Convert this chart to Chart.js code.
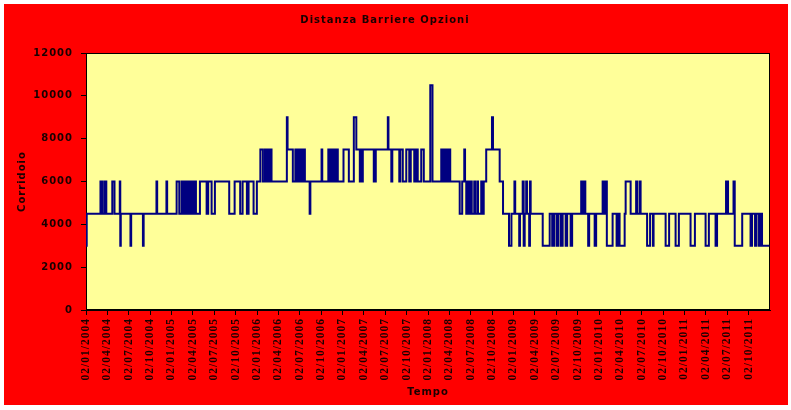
<!DOCTYPE html>
<html><head><meta charset="utf-8">
<script src="https://cdn.jsdelivr.net/npm/chart.js@4"></script>
<style>html,body{margin:0;padding:0;background:#fff}canvas{display:block}</style>
</head><body>
<canvas id="c" width="791" height="410"></canvas>
<script>
// Tick labels (quarterly dates) and their positions in months since 02/01/2004
const tickLabels = ['02/01/2004','02/04/2004','02/07/2004','02/10/2004','02/01/2005','02/04/2005','02/07/2005','02/10/2005',
  '02/01/2006','02/04/2006','02/07/2006','02/10/2006','02/01/2007','02/04/2007','02/07/2007','02/10/2007',
  '02/01/2008','02/04/2008','02/07/2008','02/10/2008','02/01/2009','02/04/2009','02/07/2009','02/10/2009',
  '02/01/2010','02/04/2010','02/07/2010','02/10/2010','02/01/2011','02/04/2011','02/07/2011','02/10/2011'];
const tickMonths = [0,3,6,9,12,15,18,21,24,27,30,33,36,39,42,45,48,51,54,57,60,63,66,69,72,75,78,81,84,87,90,93];

// Step series: month (since 02/01/2004) where a new level starts, and that level
const changeMonths = [
  0,0.1,2.03,2.29,2.59,2.85,3.69,4.0,4.74,4.81,4.88,6.24,6.34,7.99,8.09,9.89,9.99,11.29,11.39,
  12.72,13.09,13.42,13.65,13.88,14.03,14.17,14.35,14.49,14.63,14.77,14.96,15.15,15.43,15.99,16.93,17.15,17.63,18.09,20.1,20.86,21.64,21.98,22.58,22.82,23.52,
  23.98,24.47,24.82,25.11,25.3,25.4,25.6,25.7,25.85,25.92,26.04,28.19,28.29,29.03,
  29.38,29.6,29.7,29.9,30.0,30.2,30.3,30.5,30.6,30.72,31.39,31.49,33.06,33.16,
  34.01,34.2,34.3,34.5,34.6,34.8,34.9,35.1,35.2,35.34,36.14,36.89,
  37.59,37.94,38.43,38.57,38.71,38.85,40.39,40.67,42.36,42.45,42.85,42.99,
  43.97,44.11,44.46,44.95,45.37,45.58,46.07,46.28,46.56,47.05,47.41,48.32,48.63,
  49.86,50.05,50.15,50.35,50.45,50.65,50.75,50.95,51.02,51.12,
  52.45,52.8,53.09,53.2,53.37,53.51,53.72,53.93,54.14,54.49,54.6,54.91,55.02,55.47,55.68,55.82,
  56.17,56.98,57.12,58.06,58.53,59.37,59.71,
  60.13,60.24,60.8,60.91,61.29,61.43,61.57,61.78,61.89,62.2,62.31,62.41,
  64.1,65.08,65.43,65.71,66.06,66.27,66.62,66.9,67.32,67.53,68.02,68.23,
  69.5,69.71,69.92,70.08,70.48,70.62,71.39,71.6,
  72.51,72.69,72.93,73.1,73.91,74.47,74.68,74.89,75.6,75.74,76.44,
  77.21,77.35,77.7,77.84,78.75,79.17,79.57,79.66,
  81.35,81.84,82.75,83.21,84.85,85.46,86.96,87.42,88.36,88.57,
  89.83,90.11,90.88,91.05,92.1,93.27,93.48,93.9,94.11,94.46,94.6,94.88,95.9];
const levels = [
  3000,4500,6000,4500,6000,4500,6000,4500,6000,3000,4500,3000,4500,3000,4500,6000,4500,6000,4500,
  6000,4500,6000,4500,6000,4500,6000,4500,6000,4500,6000,4500,6000,4500,6000,4500,6000,4500,6000,4500,6000,4500,6000,4500,6000,4500,
  6000,7500,6000,7500,6000,7500,6000,7500,6000,7500,6000,9000,7500,6000,
  7500,6000,7500,6000,7500,6000,7500,6000,7500,6000,4500,6000,7500,6000,
  7500,6000,7500,6000,7500,6000,7500,6000,7500,6000,7500,6000,
  9000,7500,6000,7500,6000,7500,6000,7500,9000,7500,6000,7500,
  6000,7500,6000,7500,6000,7500,6000,7500,6000,7500,6000,10500,6000,
  7500,6000,7500,6000,7500,6000,7500,6000,7500,6000,
  4500,6000,7500,6000,4500,6000,4500,6000,4500,6000,4500,6000,4500,6000,4500,6000,
  7500,9000,7500,6000,4500,3000,4500,
  6000,4500,3000,4500,6000,3000,4500,6000,4500,3000,6000,4500,
  3000,4500,3000,4500,3000,4500,3000,4500,3000,4500,3000,4500,
  6000,4500,6000,4500,3000,4500,3000,4500,
  6000,4500,6000,3000,4500,3000,4500,3000,4500,6000,4500,
  6000,4500,6000,4500,3000,4500,3000,4500,
  3000,4500,3000,4500,3000,4500,3000,4500,3000,4500,
  6000,4500,6000,3000,4500,3000,4500,3000,4500,3000,4500,3000,3000];

const yTicks = [0,2000,4000,6000,8000,10000,12000];

const points = changeMonths.map((m, i) => ({x: m, y: levels[i]}));

const frame = {
  id: 'frame',
  beforeDraw(chart) {
    const ctx = chart.ctx, a = chart.chartArea;
    ctx.save();
    ctx.fillStyle = '#ffffff';
    ctx.fillRect(0, 0, chart.width, chart.height);
    ctx.fillStyle = '#ff0000';
    ctx.fillRect(4, 4, 784, 401);
    ctx.fillStyle = '#ffff99';
    ctx.fillRect(a.left, a.top, a.right - a.left, a.bottom - a.top);
    ctx.strokeStyle = '#000000';
    ctx.lineWidth = 1;
    ctx.strokeRect(a.left + 0.5, a.top + 0.5, a.right - a.left - 1, a.bottom - a.top - 1);
    ctx.restore();
    ctx.letterSpacing = '1px';
  }
};

const boldSans = {family: 'DejaVu Sans', size: 10, weight: 'bold', lineHeight: 1.2};

new Chart(document.getElementById('c'), {
  type: 'line',
  data: {
    datasets: [{
      data: points,
      stepped: true,
      borderColor: '#000080',
      borderWidth: 2,
      pointRadius: 0,
      fill: false,
      tension: 0
    }]
  },
  options: {
    responsive: false,
    animation: false,
    devicePixelRatio: 1,
    layout: {padding: {left: 0, right: 21, top: 0, bottom: 0}},
    plugins: {
      legend: {display: false},
      tooltip: {enabled: false},
      title: {
        display: true,
        text: 'Distanza Barriere Opzioni',
        color: '#1a0000',
        font: boldSans,
        padding: {top: 14, bottom: 27}
      }
    },
    scales: {
      x: {
        type: 'linear',
        min: 0,
        max: 96,
        afterBuildTicks(s) { s.ticks = tickMonths.map(v => ({value: v})); },
        afterFit(s) { s.height = 100; },
        ticks: {
          autoSkip: false,
          maxRotation: 90,
          minRotation: 90,
          padding: 3,
          color: '#1a0000',
          font: {family: 'Liberation Serif', size: 11.5, weight: 'bold'},
          callback(v, i) { return tickLabels[i]; }
        },
        grid: {display: true, drawOnChartArea: false, drawTicks: true, tickLength: 5, color: '#000'},
        border: {display: true, color: '#000', width: 1},
        title: {display: true, text: 'Tempo', color: '#1a0000', font: boldSans, padding: {top: 0, bottom: 12}}
      },
      y: {
        min: 0,
        max: 12000,
        afterBuildTicks(s) { s.ticks = yTicks.map(v => ({value: v})); },
        afterFit(s) { s.width = 86; },
        ticks: {
          padding: 8,
          color: '#1a0000',
          font: boldSans,
          callback(v) { return String(v); }
        },
        grid: {display: true, drawOnChartArea: false, drawTicks: true, tickLength: 5, color: '#000'},
        border: {display: true, color: '#000', width: 1},
        title: {display: true, text: 'Corridoio', color: '#1a0000', font: boldSans, padding: {top: 16, bottom: 0}}
      }
    }
  },
  plugins: [frame]
});
</script>
</body></html>
